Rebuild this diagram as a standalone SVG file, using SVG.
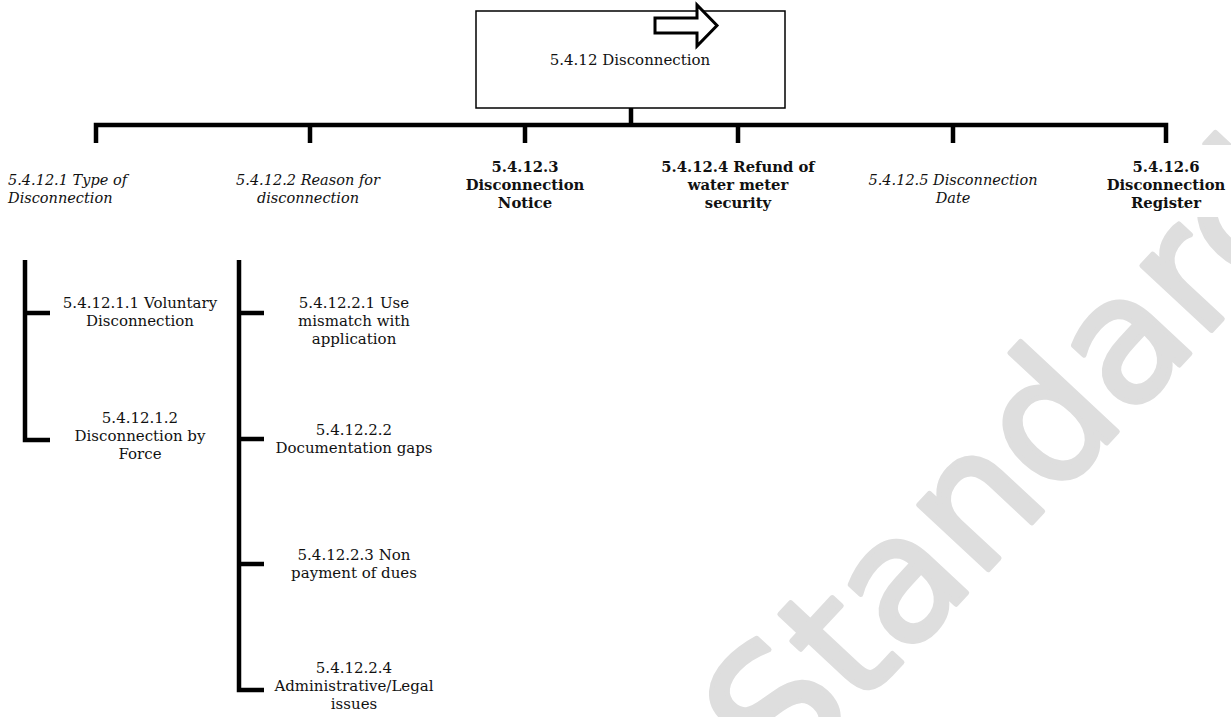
<svg xmlns="http://www.w3.org/2000/svg" width="1231" height="717" viewBox="0 0 1231 717">
<style>
text{font-family:"DejaVu Serif","Liberation Serif",serif;fill:#111;text-anchor:middle;}
.r{font-size:15px;}
.i{font-size:14.5px;font-style:italic;}
.b{font-size:14.8px;font-weight:bold;}
.bg{fill:#fff;stroke:none;}
.c{fill:none;stroke:#000;stroke-width:4.5;stroke-linejoin:miter;stroke-linecap:butt;}
.wm{font-family:"DejaVu Sans",sans-serif;font-size:174px;fill:#dedede;stroke:#dedede;stroke-width:5;stroke-linejoin:round;text-anchor:start;}
</style>
<text class="wm" transform="translate(783,790) rotate(-47)">Standards</text>
<g id="connectors">
<path class="c" d="M631,108 V125"/>
<path class="c" d="M96,143 V125 H1166 V143"/>
<path class="c" d="M310,125 V143 M525,125 V143 M738,125 V143 M953,125 V143"/>
<path class="c" d="M25,260 V440 H50 M25,313 H50"/>
<path class="c" d="M239,260 V690 H264 M239,313 H264 M239,439 H264 M239,564 H264"/>
</g>
<g id="root">
<rect x="476" y="11" width="309" height="97" fill="#fff" stroke="#000" stroke-width="1.5"/>
<polygon points="655,18 697,18 697,5 717,25.5 697,46 697,33 655,33" fill="#fff" stroke="#000" stroke-width="3"/>
<text class="r" x="630" y="65">5.4.12 Disconnection</text>
</g>
<g id="n1"><text class="i" style="text-anchor:start" x="8" y="185">5.4.12.1 Type of</text><text class="i" style="text-anchor:start" x="8" y="203">Disconnection</text></g>
<g id="n2"><text class="i" x="308" y="185">5.4.12.2 Reason for</text><text class="i" x="308" y="203">disconnection</text></g>
<g id="n3"><text class="b" x="525" y="172">5.4.12.3</text><text class="b" x="525" y="190">Disconnection</text><text class="b" x="525" y="208">Notice</text></g>
<g id="n4"><text class="b" x="738" y="172">5.4.12.4 Refund of</text><text class="b" x="738" y="190">water meter</text><text class="b" x="738" y="208">security</text></g>
<g id="n5"><text class="i" x="953" y="185">5.4.12.5 Disconnection</text><text class="i" x="953" y="203">Date</text></g>
<g id="n6"><rect class="bg" x="1100" y="145" width="131" height="72"/><text class="b" x="1166" y="172">5.4.12.6</text><text class="b" x="1166" y="190">Disconnection</text><text class="b" x="1166" y="208">Register</text></g>
<g id="n11"><text class="r" x="140" y="308">5.4.12.1.1 Voluntary</text><text class="r" x="140" y="326">Disconnection</text></g>
<g id="n12"><text class="r" x="140" y="423">5.4.12.1.2</text><text class="r" x="140" y="441">Disconnection by</text><text class="r" x="140" y="459">Force</text></g>
<g id="n21"><text class="r" x="354" y="308">5.4.12.2.1 Use</text><text class="r" x="354" y="326">mismatch with</text><text class="r" x="354" y="344">application</text></g>
<g id="n22"><text class="r" x="354" y="435">5.4.12.2.2</text><text class="r" x="354" y="453">Documentation gaps</text></g>
<g id="n23"><text class="r" x="354" y="560">5.4.12.2.3 Non</text><text class="r" x="354" y="578">payment of dues</text></g>
<g id="n24"><text class="r" x="354" y="673">5.4.12.2.4</text><text class="r" x="354" y="691">Administrative/Legal</text><text class="r" x="354" y="709">issues</text></g>
</svg>
